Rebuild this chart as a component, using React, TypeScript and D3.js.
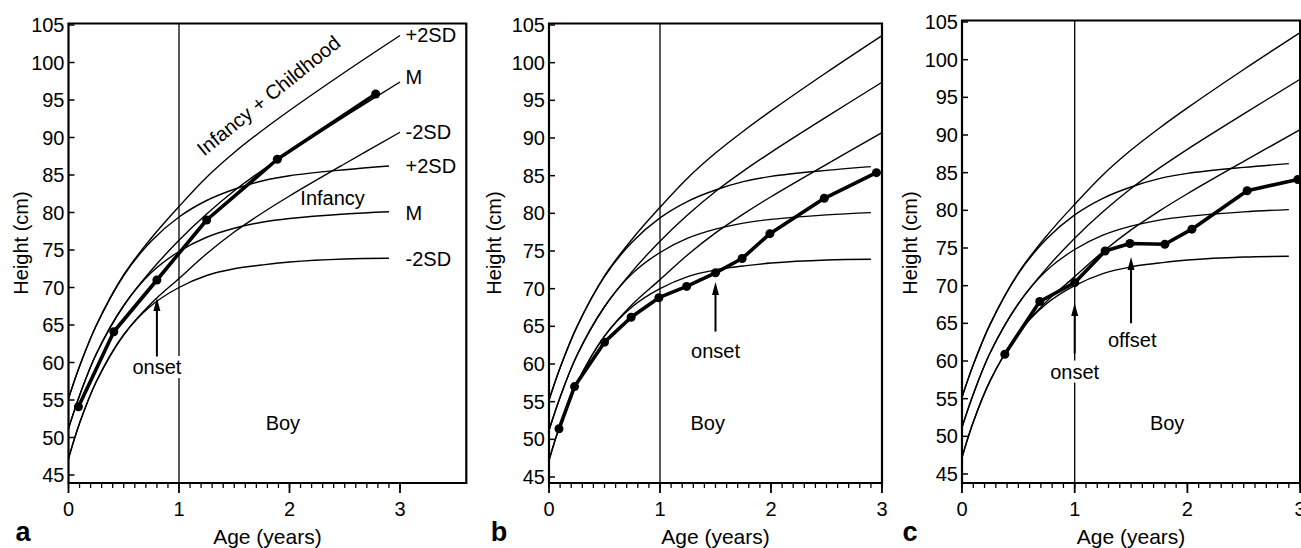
import React from 'react';
import * as d3 from 'd3';

// ---- Reference curves ----
const icAges = [0, 0.1, 0.25, 0.5, 0.75, 1, 1.25, 1.5, 1.75, 2, 2.5, 3];
const icPlus2 = [55.2, 59.5, 64.9, 71.7, 76.6, 80.8, 84.7, 88.0, 90.9, 93.6, 98.7, 103.6];
const icMedian = [51.2, 55.6, 61.1, 67.6, 72.3, 76.3, 79.8, 82.9, 85.6, 88.1, 92.8, 97.4];
const icMinus2 = [47.2, 51.9, 57.4, 63.7, 67.9, 71.2, 74.5, 77.4, 79.9, 82.2, 86.5, 90.7];

const infAges = [0, 0.1, 0.25, 0.5, 0.75, 1, 1.25, 1.5, 1.75, 2, 2.5, 2.9];
const infPlus2 = [55.2, 59.5, 64.9, 71.6, 76.2, 79.4, 81.6, 83.1, 84.2, 84.9, 85.7, 86.2];
const infMedian = [51.2, 55.6, 61.1, 67.6, 72.0, 74.8, 76.7, 77.9, 78.7, 79.2, 79.8, 80.1];
const infMinus2 = [47.2, 51.9, 57.4, 63.7, 67.6, 70.0, 71.6, 72.5, 73.0, 73.4, 73.8, 73.9];

// ---- Patient series ----
const agesA = [0.09, 0.41, 0.8, 1.25, 1.89, 2.78];
const heightsA = [54.1, 64.1, 71.0, 79.0, 87.1, 95.8];

const agesB = [0.09, 0.23, 0.5, 0.74, 0.99, 1.24, 1.5, 1.74, 1.99, 2.48, 2.95];
const heightsB = [51.4, 57.0, 62.9, 66.2, 68.8, 70.3, 72.1, 74.0, 77.3, 82.0, 85.4];

const agesC = [0.38, 0.69, 1.0, 1.27, 1.49, 1.8, 2.04, 2.53, 2.98];
const heightsC = [60.9, 67.9, 70.4, 74.6, 75.6, 75.5, 77.5, 82.6, 84.1];

// ---- Axis ticks ----
const yTicks = [45, 50, 55, 60, 65, 70, 75, 80, 85, 90, 95, 100, 105];
const xMajorTicks = [0, 1, 2, 3];
const xMinorTicks = d3.range(0, 31).map((i) => i / 10);

// ---- Annotation labels ----
const sdLabels = ['+2SD', 'M', '-2SD', '+2SD', 'M', '-2SD'];
const sdLabelHeights = [103.7, 98.1, 90.8, 86.2, 80.0, 73.8];

const FONT = '"Liberation Sans", Arial, Helvetica, sans-serif';

type Arrow = { age: number; tip: number; tail: number; label: string; labelAge: number; labelH: number };

type PanelSpec = {
  letter: string;
  x0: number;
  kx: number;
  xMax: number;
  y45: number;
  y105: number;
  ages: number[];
  heights: number[];
  arrows: Arrow[];
  boy: [number, number];
  yLabelX: number;
  letterX: number;
  extra?: boolean;
};

const panels: PanelSpec[] = [
  {
    letter: 'a', x0: 68.5, kx: 110.5, xMax: 3.6, y45: 475, y105: 25,
    ages: agesA, heights: heightsA,
    arrows: [{ age: 0.8, tip: 68.6, tail: 60.8, label: 'onset', labelAge: 0.8, labelH: 59.4 }],
    boy: [1.94, 51.9], yLabelX: 21, letterX: 23, extra: true,
  },
  {
    letter: 'b', x0: 549, kx: 111, xMax: 3, y45: 477, y105: 25,
    ages: agesB, heights: heightsB,
    arrows: [{ age: 1.5, tip: 70.9, tail: 64.3, label: 'onset', labelAge: 1.5, labelH: 61.7 }],
    boy: [1.43, 52.2], yLabelX: 494, letterX: 499,
  },
  {
    letter: 'c', x0: 962, kx: 112.7, xMax: 3, y45: 474, y105: 22,
    ages: agesC, heights: heightsC,
    arrows: [
      { age: 1.0, tip: 67.7, tail: 61.0, label: 'onset', labelAge: 1.0, labelH: 58.6 },
      { age: 1.5, tip: 73.8, tail: 65.0, label: 'offset', labelAge: 1.51, labelH: 62.8 },
    ],
    boy: [1.82, 51.8], yLabelX: 910, letterX: 910,
  },
];

function Panel({ p }: { p: PanelSpec }) {
  const x = d3.scaleLinear().domain([0, p.xMax]).range([p.x0, p.x0 + p.xMax * p.kx]);
  const y = d3.scaleLinear().domain([45, 105]).range([p.y45, p.y105]);
  const top = p.y105 - 1.5;
  const bottom = 483;
  const left = x(0);
  const right = x(p.xMax);
  const smooth = d3
    .line<[number, number]>()
    .x((d) => x(d[0]))
    .y((d) => y(d[1]))
    .curve(d3.curveCatmullRom.alpha(0.5));
  const straight = d3
    .line<[number, number]>()
    .x((d) => x(d[0]))
    .y((d) => y(d[1]));
  const zip = (a: number[], b: number[]) => a.map((v, i) => [v, b[i]] as [number, number]);
  const refCurves = [
    zip(icAges, icPlus2), zip(icAges, icMedian), zip(icAges, icMinus2),
    zip(infAges, infPlus2), zip(infAges, infMedian), zip(infAges, infMinus2),
  ];
  const pts = zip(p.ages, p.heights);
  const midX = (left + right) / 2;

  return (
    <g>
      {/* reference curves */}
      {refCurves.map((c, i) => (
        <path key={i} d={smooth(c) || ''} fill="none" stroke="#000" strokeWidth={1.4} />
      ))}
      {/* vertical line at age 1 */}
      <line x1={x(1)} x2={x(1)} y1={top} y2={bottom} stroke="#000" strokeWidth={1.3} />
      {/* patient line */}
      <path d={straight(pts) || ''} fill="none" stroke="#000" strokeWidth={3.6} strokeLinejoin="round" />
      {pts.map((d, i) => (
        <circle key={i} cx={x(d[0])} cy={y(d[1])} r={4.5} fill="#000" />
      ))}
      {/* arrows */}
      {p.arrows.map((a, i) => {
        const tx = x(a.age);
        const ty = y(a.tip);
        const lx = x(a.labelAge);
        const ly = y(a.labelH);
        const w = a.label.length * 10.5 + 6;
        return (
          <g key={i}>
            <rect x={lx - w / 2} y={ly - 11} width={w} height={22} fill="#fff" />
            <line x1={tx} x2={tx} y1={y(a.tail)} y2={ty + 10} stroke="#000" strokeWidth={2} />
            <path d={`M${tx},${ty} L${tx - 3.5},${ty + 13} L${tx + 3.5},${ty + 13} Z`} fill="#000" />
            <text x={lx} y={ly} textAnchor="middle" dominantBaseline="central" fontSize={20} fontFamily={FONT}>
              {a.label}
            </text>
          </g>
        );
      })}
      {/* Boy */}
      <text x={x(p.boy[0])} y={y(p.boy[1])} textAnchor="middle" dominantBaseline="central" fontSize={20} fontFamily={FONT}>
        Boy
      </text>
      {p.extra && (
        <g fontFamily={FONT} fontSize={20}>
          {sdLabels.map((s, i) => (
            <text key={i} x={x(3.05)} y={y(sdLabelHeights[i])} dominantBaseline="central">
              {s}
            </text>
          ))}
          <text x={x(2.39)} y={y(81.9)} textAnchor="middle" dominantBaseline="central">
            Infancy
          </text>
          <text
            x={x(1.81)}
            y={y(95.6)}
            textAnchor="middle"
            dominantBaseline="central"
            transform={`rotate(-39 ${x(1.81)} ${y(95.6)})`}
          >
            Infancy + Childhood
          </text>
        </g>
      )}
      {/* frame */}
      <path
        d={`M${left},${top} L${right},${top} L${right},${bottom} L${left},${bottom} Z`}
        fill="none"
        stroke="#000"
        strokeWidth={2.2}
      />
      {/* y ticks */}
      {yTicks.map((t) => (
        <g key={t}>
          <line x1={left} x2={left + 6} y1={y(t)} y2={y(t)} stroke="#000" strokeWidth={1.5} />
          <text x={left - 4} y={y(t)} textAnchor="end" dominantBaseline="central" fontSize={20} fontFamily={FONT}>
            {t}
          </text>
        </g>
      ))}
      {/* x ticks */}
      {xMinorTicks.map((t) => (
        <line key={'m' + t} x1={x(t)} x2={x(t)} y1={bottom} y2={bottom + 5} stroke="#000" strokeWidth={1.3} />
      ))}
      {xMajorTicks.map((t) => (
        <g key={t}>
          <line x1={x(t)} x2={x(t)} y1={bottom} y2={bottom + 10} stroke="#000" strokeWidth={1.8} />
          <text x={x(t)} y={509} textAnchor="middle" dominantBaseline="central" fontSize={20} fontFamily={FONT}>
            {t}
          </text>
        </g>
      ))}
      <text x={midX} y={536} textAnchor="middle" dominantBaseline="central" fontSize={21} fontFamily={FONT}>
        Age (years)
      </text>
      <text
        x={p.yLabelX}
        y={243}
        textAnchor="middle"
        dominantBaseline="central"
        fontSize={20}
        fontFamily={FONT}
        transform={`rotate(-90 ${p.yLabelX} 243)`}
      >
        Height (cm)
      </text>
      <text x={p.letterX} y={541} textAnchor="middle" fontSize={27} fontWeight="bold" fontFamily={FONT}>
        {p.letter}
      </text>
    </g>
  );
}

export default function App() {
  return (
    <svg
      width={1301}
      height={548}
      viewBox="0 0 1301 548"
      style={{ position: 'absolute', left: 0, top: 0, background: '#fff' }}
    >
      <rect x={0} y={0} width={1301} height={548} fill="#fff" />
      {panels.map((p) => (
        <Panel key={p.letter} p={p} />
      ))}
    </svg>
  );
}
